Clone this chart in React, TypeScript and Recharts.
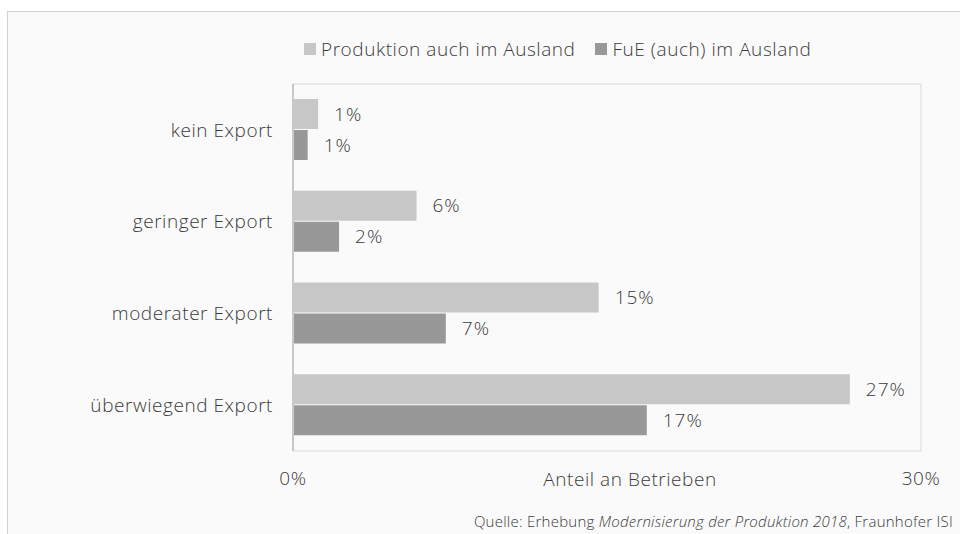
import { Bar, BarChart, Label, LabelList, Legend, ReferenceArea, XAxis, YAxis } from "recharts";

const categories = ["kein Export", "geringer Export", "moderater Export", "überwiegend Export"];
const produktion = [1.2, 5.9, 14.6, 26.6];
const fue = [0.7, 2.2, 7.3, 16.9];
const xTicks = [0, 30];
const seriesNames = ["Produktion auch im Ausland", "FuE (auch) im Ausland"];

const FONT = "'Open Sans', 'Noto Sans', sans-serif";
const TEXT = "#3a3a3a";
const LIGHT = "#c7c7c7";
const DARK = "#989898";
const seriesColors = [LIGHT, DARK];
const FS = 19;
const LS = 0.55;
const FW = 300;

const data = categories.map((name, i) => ({
  name,
  produktion: produktion[i],
  fue: fue[i],
}));

const pct = (v: any) => `${Math.round(Number(v))}%`;

// own legend so the order stays the same as in the source
const renderLegend = () => (
  <div
    style={{
      display: "flex",
      fontFamily: FONT,
      fontSize: FS,
      fontWeight: FW,
      letterSpacing: LS,
      color: TEXT,
      whiteSpace: "nowrap",
    }}
  >
    {seriesNames.map((n, i) => (
      <span key={n} style={{ display: "flex", alignItems: "center", marginRight: 20 }}>
        <span style={{ width: 12, height: 12, background: seriesColors[i], marginRight: 5 }} />
        {n}
      </span>
    ))}
  </div>
);

const tickStyle = { fill: TEXT, fontSize: FS, fontFamily: FONT, fontWeight: FW, letterSpacing: LS };

export default function App() {
  return (
    <div style={{ position: "absolute", left: 0, top: 0, width: 960, height: 534, background: "#fff", overflow: "hidden" }}>
      <div
        style={{
          position: "absolute",
          left: 7,
          top: 11,
          width: 960,
          height: 530,
          borderTop: "1.5px solid #d0d0d0",
          borderLeft: "1.5px solid #d0d0d0",
          background: "#fafafa",
        }}
      />
      <div style={{ position: "absolute", left: 0, top: 0 }}>
        <BarChart
          width={960}
          height={534}
          data={data}
          layout="vertical"
          margin={{ top: 84, right: 39, bottom: 0, left: 0 }}
          barSize={30}
          barGap={1}
        >
          <ReferenceArea x1={0} x2={30} stroke="#d9d9d9" strokeWidth={1} fill="#fafafa" fillOpacity={1} />
          <XAxis
            type="number"
            domain={[0, 30]}
            ticks={xTicks}
            tickFormatter={pct}
            height={83}
            axisLine={false}
            tickLine={false}
            tickSize={0}
            tickMargin={21}
            tick={tickStyle}
          >
            <Label
              content={(p: any) => {
                const vb = p.viewBox || {};
                return (
                  <text
                    x={vb.x + vb.width / 2 + 23}
                    y={vb.y + 34.5}
                    textAnchor="middle"
                    fill={TEXT}
                    fontSize={FS}
                    fontFamily={FONT}
                    fontWeight={FW}
                    letterSpacing={LS}
                  >
                    Anteil an Betrieben
                  </text>
                );
              }}
            />
          </XAxis>
          <YAxis
            type="category"
            dataKey="name"
            width={293}
            axisLine={{ stroke: "#c8c8c8", strokeWidth: 2 }}
            tickLine={false}
            tickSize={0}
            tickMargin={20}
            tick={tickStyle}
          />
          <Legend
            layout="horizontal"
            verticalAlign="middle"
            content={renderLegend}
            wrapperStyle={{ top: 36, left: 304, width: "auto" }}
          />
          <Bar dataKey="produktion" name={seriesNames[0]} fill={LIGHT} isAnimationActive={false}>
            <LabelList
              dataKey="produktion"
              position="right"
              offset={16}
              formatter={pct}
              fill={TEXT}
              fontSize={FS}
              fontFamily={FONT}
              fontWeight={FW}
              letterSpacing={1}
            />
          </Bar>
          <Bar dataKey="fue" name={seriesNames[1]} fill={DARK} isAnimationActive={false}>
            <LabelList
              dataKey="fue"
              position="right"
              offset={16}
              formatter={pct}
              fill={TEXT}
              fontSize={FS}
              fontFamily={FONT}
              fontWeight={FW}
              letterSpacing={1}
            />
          </Bar>
        </BarChart>
      </div>
      <div
        style={{
          position: "absolute",
          right: 7,
          top: 511,
          fontFamily: FONT,
          fontSize: 15,
          fontWeight: FW,
          letterSpacing: 0.25,
          color: TEXT,
          whiteSpace: "nowrap",
        }}
      >
        Quelle: Erhebung <i>Modernisierung der Produktion 2018</i>, Fraunhofer ISI
      </div>
    </div>
  );
}
